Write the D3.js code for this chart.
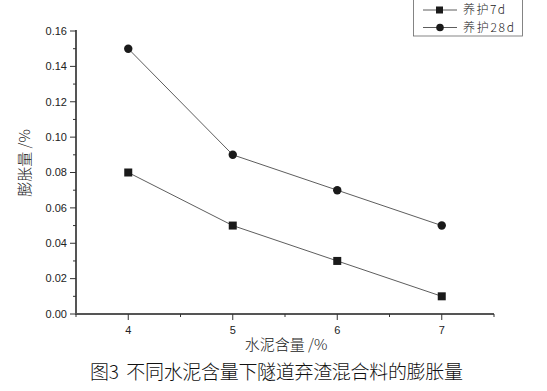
<!DOCTYPE html>
<html><head><meta charset="utf-8">
<script src="https://cdn.jsdelivr.net/npm/d3@7"></script>
<style>
  body { margin:0; background:#fff; }
  svg { display:block; font-family:"Liberation Sans", Arial, "Noto Sans CJK SC", sans-serif; }
</style></head>
<body><svg id="c" width="547" height="391"></svg>
<script>
// cement content (%) vs swelling (%)
const cement   = [4, 5, 6, 7];
const cure7d   = [0.08, 0.05, 0.03, 0.01];
const cure28d  = [0.15, 0.09, 0.07, 0.05];
const seriesNames = ['养护7d', '养护28d'];
const yTicks = [0, 0.02, 0.04, 0.06, 0.08, 0.10, 0.12, 0.14, 0.16];

const svg = d3.select('#c');
const M = {l:76, r:494, t:31, b:314};
const x = d3.scaleLinear().domain([3.5, 7.5]).range([M.l, M.r]);
const y = d3.scaleLinear().domain([0, 0.16]).range([M.b, M.t]);
const ink = '#333';
const cjk = '"Noto Sans CJK SC", sans-serif';

// y axis: major + minor ticks pointing out
const ya = svg.append('g').attr('transform', `translate(${M.l},0)`);
ya.append('line').attr('y1', M.t - 1).attr('y2', M.b + 1).attr('stroke', '#555').attr('stroke-width', 2);
ya.selectAll('line.maj').data(yTicks).join('line').attr('class','maj')
  .attr('x1', -6).attr('x2', 0).attr('y1', d => y(d)).attr('y2', d => y(d)).attr('stroke', ink);
ya.selectAll('line.min').data(yTicks.slice(0, -1)).join('line').attr('class','min')
  .attr('x1', -3).attr('x2', 0).attr('y1', d => y(d + 0.01)).attr('y2', d => y(d + 0.01)).attr('stroke', ink);
ya.selectAll('text').data(yTicks).join('text')
  .attr('x', -9).attr('y', d => y(d)).attr('dy', '0.35em').attr('text-anchor', 'end')
  .attr('font-size', 11).attr('fill', '#222').text(d3.format('.2f'));

// x axis
const xTicks = cement;
const xa = svg.append('g').attr('transform', `translate(0,${M.b})`);
xa.append('line').attr('x1', M.l - 1).attr('x2', M.r).attr('stroke', '#555').attr('stroke-width', 2);
xa.selectAll('line.maj').data(xTicks).join('line').attr('class','maj')
  .attr('x1', d => x(d)).attr('x2', d => x(d)).attr('y1', 0).attr('y2', 6).attr('stroke', ink);
xa.selectAll('line.min').data([3.5, 4.5, 5.5, 6.5, 7.5]).join('line').attr('class','min')
  .attr('x1', d => x(d)).attr('x2', d => x(d)).attr('y1', 0).attr('y2', 3).attr('stroke', ink);
xa.selectAll('text').data(xTicks).join('text')
  .attr('x', d => x(d)).attr('y', 20).attr('text-anchor', 'middle')
  .attr('font-size', 11).attr('fill', '#222').text(d => d);

// axis titles + caption
svg.append('text').attr('x', 286).attr('y', 345).attr('dy', '0.35em').attr('text-anchor', 'middle')
  .attr('font-family', cjk).attr('font-weight', 300)
  .attr('font-size', 15).attr('fill', '#222').text('水泥含量 /%');
svg.append('text').attr('transform', `translate(25,163) rotate(-90)`).attr('dy', '0.35em')
  .attr('text-anchor', 'middle').attr('font-family', cjk).attr('font-weight', 300)
  .attr('font-size', 15).attr('fill', '#222').text('膨胀量 /%');
svg.append('text').attr('x', 90).attr('y', 372).attr('dy', '0.35em').attr('textLength', 373)
  .attr('font-family', cjk).attr('font-weight', 300)
  .attr('font-size', 19).attr('fill', '#111').attr('xml:space', 'preserve')
  .text('图3  不同水泥含量下隧道弃渣混合料的膨胀量');

// series
const line = d3.line().x(d => x(d[0])).y(d => y(d[1]));
const series = [cure7d, cure28d].map(v => cement.map((c, i) => [c, v[i]]));
series.forEach((pts, si) => {
  svg.append('path').datum(pts).attr('d', line).attr('fill', 'none').attr('stroke', ink).attr('stroke-width', 0.8);
  const g = svg.append('g');
  if (si === 0) {
    g.selectAll('rect').data(pts).join('rect')
      .attr('x', d => x(d[0]) - 4).attr('y', d => y(d[1]) - 4).attr('width', 8).attr('height', 8).attr('fill', '#1a1a1a');
  } else {
    g.selectAll('circle').data(pts).join('circle')
      .attr('cx', d => x(d[0])).attr('cy', d => y(d[1])).attr('r', 4.2).attr('fill', '#1a1a1a');
  }
});

// legend
const lg = svg.append('g');
lg.append('rect').attr('x', 413.5).attr('y', -1).attr('width', 109).attr('height', 37)
  .attr('fill', '#fff').attr('stroke', '#666').attr('stroke-width', 0.8);
seriesNames.forEach((name, i) => {
  const cy = 10 + i * 17.5;
  lg.append('line').attr('x1', 423).attr('x2', 457).attr('y1', cy).attr('y2', cy).attr('stroke', ink).attr('stroke-width', 0.8);
  if (i === 0) lg.append('rect').attr('x', 436).attr('y', cy - 3.5).attr('width', 7).attr('height', 7).attr('fill', '#1a1a1a');
  else lg.append('circle').attr('cx', 440).attr('cy', cy).attr('r', 3.8).attr('fill', '#1a1a1a');
  lg.append('text').attr('x', 463).attr('y', cy).attr('dy', '0.35em').attr('font-family', cjk).attr('font-weight', 300)
    .attr('font-size', 12).attr('textLength', i ? 51 : 42).attr('fill', '#222').text(name);
});
</script></body></html>
